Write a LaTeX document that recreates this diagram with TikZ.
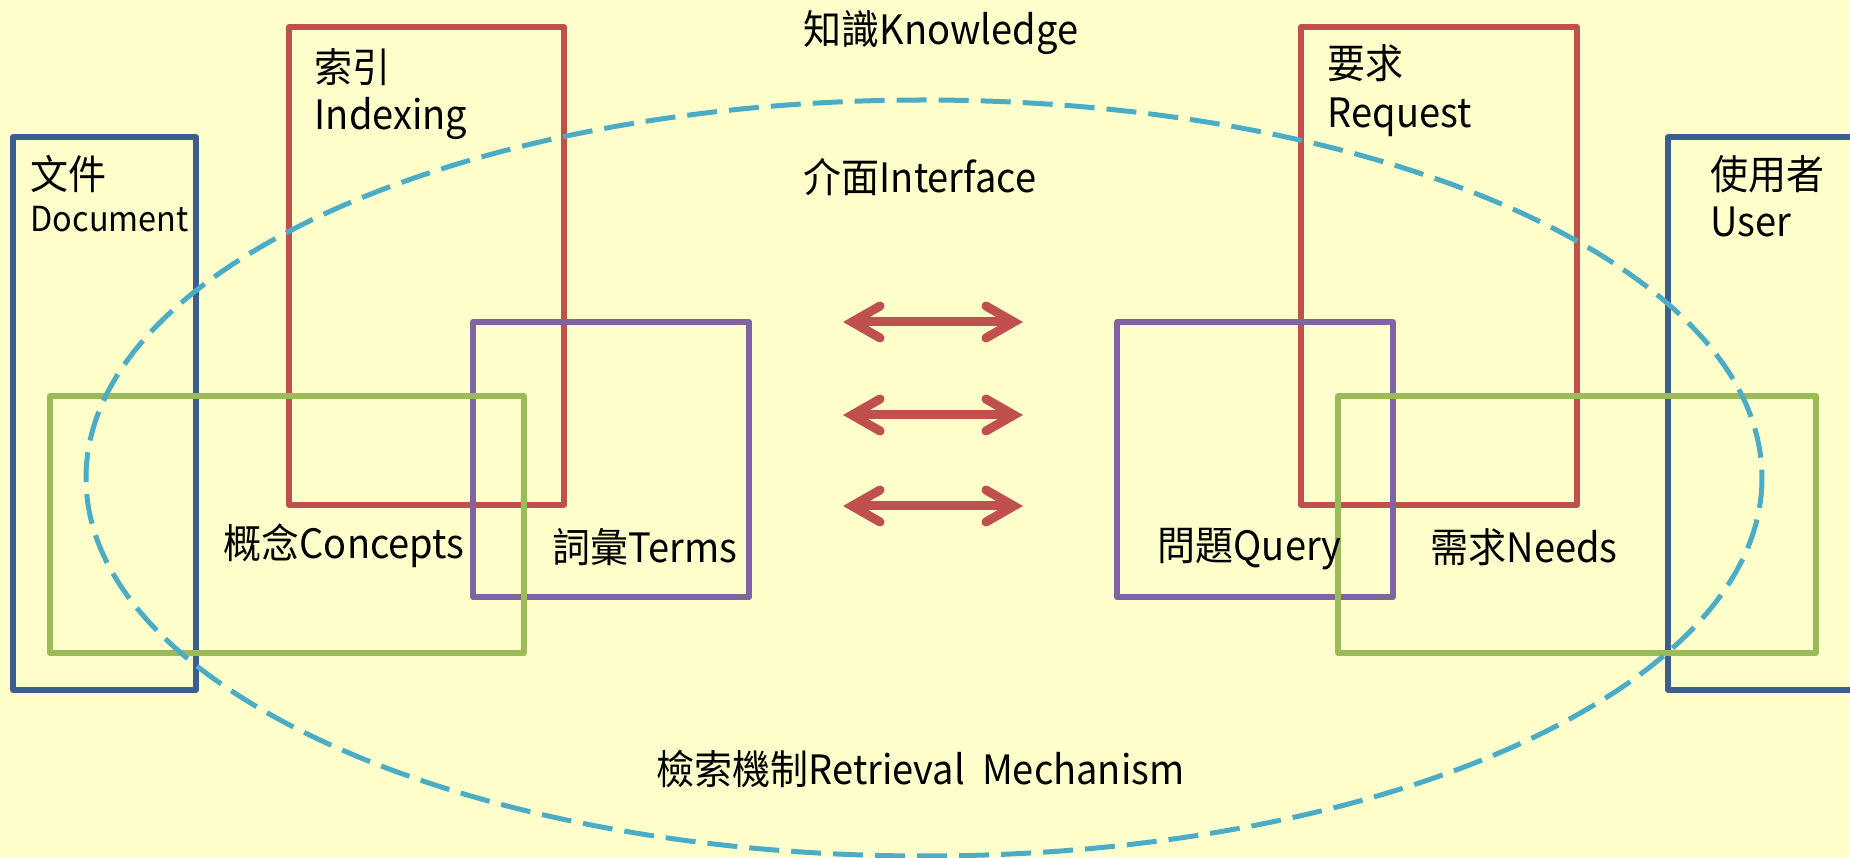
\documentclass[tikz,border=0pt]{standalone}
\usepackage{fontspec}
\setmainfont{Noto Sans CJK TC}[FakeStretch=0.94]
\usetikzlibrary{arrows.meta}
\definecolor{bgyel}{HTML}{FFFFCC}
\definecolor{docblu}{HTML}{3B5E8C}
\definecolor{idxred}{HTML}{C0504D}
\definecolor{trmppl}{HTML}{8064A2}
\definecolor{cptgrn}{HTML}{9BBB59}
\definecolor{mchcyn}{HTML}{4BACC6}

\begin{document}
\begin{tikzpicture}[x=0.01cm, y=-0.01cm,
  box/.style={line width=0.055cm, line join=round},
  txt/.style={anchor=base west, inner sep=0pt, font=\fontsize{11.5}{14}\selectfont},
  small txt/.style={txt, font=\fontsize{9.8}{12}\selectfont},
  link/.style={line width=0.09cm, idxred,
    {Straight Barb[length=2.8mm, width=3.2mm, line cap=round]}-{Straight Barb[length=2.8mm, width=3.2mm, line cap=round]}}]

\useasboundingbox (0,0) rectangle (1850,858);
\fill[bgyel] (0,0) rectangle (1850,858);
\clip (0,0) rectangle (1850,858);

\draw[box, docblu] (13,137) rectangle (196,690);
\draw[box, docblu] (1668,137) rectangle (1890,690);
\draw[box, idxred] (289,27) rectangle (564,505);
\draw[box, idxred] (1301,27) rectangle (1577,505);
\draw[box, trmppl] (473,322) rectangle (749,597);
\draw[box, trmppl] (1117,322) rectangle (1393,597);
\draw[box, cptgrn] (50,396) rectangle (524,653);
\draw[box, cptgrn] (1338,396) rectangle (1816,653);

% retrieval mechanism
\draw[mchcyn, line width=0.05cm, dash pattern=on 0.3cm off 0.12cm] (924,478) ellipse (838 and 378);

\node[txt] (1) at (803,45) {知識Knowledge};
\node[txt] (2) at (803,193) {介面Interface};
\node[txt] (3) at (656,785) {檢索機制Retrieval\ \ Mechanism};

\node[txt] (4) at (30,190) {文件};
\node[small txt] (5) at (30,232) {Document};
\node[txt] (6) at (314,83) {索引};
\node[txt] (7) at (314,130) {Indexing};
\node[txt] (8) at (1327,79) {要求};
\node[txt] (9) at (1327,128) {Request};
\node[txt] (10) at (1710,190) {使用者};
\node[txt] (11) at (1710,237) {User};

\node[txt] (12) at (223,559) {概念Concepts};
\node[txt] (13) at (552,563) {詞彙Terms};
\node[txt] (14) at (1157,561) {問題Query};
\node[txt] (15) at (1430,563) {需求Needs};

\coordinate (a1) at (843,322); \coordinate (b1) at (1023,322);
\coordinate (a2) at (843,415); \coordinate (b2) at (1023,415);
\coordinate (a3) at (843,506); \coordinate (b3) at (1023,506);
\draw[link] (a1) -- (b1);
\draw[link] (a2) -- (b2);
\draw[link] (a3) -- (b3);
\end{tikzpicture}
\end{document}
